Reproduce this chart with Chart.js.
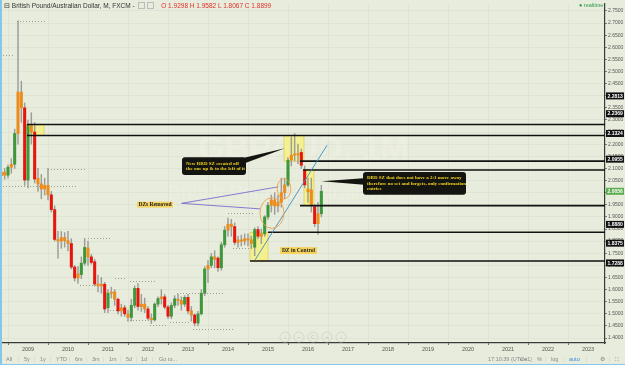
<!DOCTYPE html>
<html>
<head>
<meta charset="utf-8">
<script src="https://cdn.jsdelivr.net/npm/chart.js@4.4.0/dist/chart.umd.min.js"></script>
<style>
  html, body { margin: 0; padding: 0; background: #e8ecdc; overflow: hidden; }
  #wrap { position: relative; width: 625px; height: 365px; background: #e8ecdc; font-family: "Liberation Sans", Arial, sans-serif; }
  #wrap:before { content: ""; position: absolute; left: 0; top: 0; width: 2px; height: 365px; background: #86c6e6; z-index: 3; }
  #wrap:after { content: ""; position: absolute; left: 0; bottom: 0; width: 625px; height: 1px; background: #86c6e6; z-index: 3; }
  canvas { position: absolute; left: 0; top: 0; }
  #head { position: absolute; left: 4px; top: 2px; font-size: 6.5px; color: #333; white-space: nowrap; z-index: 2; }
  #head .ohlc { color: #e0302a; margin-left: 5px; }
  #head .ic { display: inline-block; width: 5px; height: 5px; border: 1px solid #bbb; margin-left: 2px; vertical-align: -1px; }
  #rt { position: absolute; left: 579px; top: 2px; font-size: 5.5px; color: #2a9a4a; z-index: 2; }
  #bar { position: absolute; left: 2px; top: 355px; width: 622px; height: 9px; font-size: 5.5px; color: #888; z-index: 2; }
  #bar span { position: absolute; top: 1px; white-space: nowrap; }
  #bar .sep { color: #cfd2c8; }
  #bar .on { color: #3c8ee0; }
</style>
</head>
<body>
<div id="wrap">
  <canvas id="chart" width="625" height="365"></canvas>
  <div id="head">&#8863; British Pound/Australian Dollar, M, FXCM - <span class="ic"></span><span class="ic"></span>
    <span class="ohlc">O 1.9298 H 1.9582 L 1.8067 C 1.8899</span></div>
  <div id="rt">&#9679; realtime</div>
  <div id="bar">
    <span style="left:4px">All</span><span class="sep" style="left:16px">|</span>
    <span style="left:22px">5y</span><span class="sep" style="left:32px">|</span>
    <span style="left:38px">1y</span><span class="sep" style="left:48px">|</span>
    <span style="left:54px">YTD</span><span class="sep" style="left:67px">|</span>
    <span style="left:73px">6m</span><span class="sep" style="left:84px">|</span>
    <span style="left:90px">3m</span><span class="sep" style="left:101px">|</span>
    <span style="left:107px">1m</span><span class="sep" style="left:118px">|</span>
    <span style="left:124px">5d</span><span class="sep" style="left:134px">|</span>
    <span style="left:139px">1d</span><span class="sep" style="left:150px">|</span>
    <span style="left:157px">Go to...</span>
    <span style="left:486px">17:10:39 (UTC+1)</span><span class="sep" style="left:513px">|</span>
    <span style="left:518px">ext</span><span class="sep" style="left:529px">|</span>
    <span style="left:535px">%</span><span class="sep" style="left:543px">|</span>
    <span style="left:549px">log</span><span class="sep" style="left:561px">|</span>
    <span class="on" style="left:567px">auto</span><span class="sep" style="left:584px">|</span>
    <span style="left:598px">&#9881;</span><span class="sep" style="left:607px">|</span>
    <span style="left:613px">&#9974;</span>
  </div>
</div>
<script>
// monthly GBPAUD candles
const months = [
  '2008-05','2008-06','2008-07','2008-08','2008-09','2008-10','2008-11','2008-12',
  '2009-01','2009-02','2009-03','2009-04','2009-05','2009-06','2009-07','2009-08','2009-09','2009-10','2009-11','2009-12',
  '2010-01','2010-02','2010-03','2010-04','2010-05','2010-06','2010-07','2010-08','2010-09','2010-10','2010-11','2010-12',
  '2011-01','2011-02','2011-03','2011-04','2011-05','2011-06','2011-07','2011-08','2011-09','2011-10','2011-11','2011-12',
  '2012-01','2012-02','2012-03','2012-04','2012-05','2012-06','2012-07','2012-08','2012-09','2012-10','2012-11','2012-12',
  '2013-01','2013-02','2013-03','2013-04','2013-05','2013-06','2013-07','2013-08','2013-09','2013-10','2013-11','2013-12',
  '2014-01','2014-02','2014-03','2014-04','2014-05','2014-06','2014-07','2014-08','2014-09','2014-10','2014-11','2014-12',
  '2015-01','2015-02','2015-03','2015-04','2015-05','2015-06','2015-07','2015-08','2015-09','2015-10','2015-11','2015-12',
  '2016-01','2016-02','2016-03','2016-04','2016-05'
];
const opens = [
  2.070,2.085,2.072,2.105,2.117,2.244,2.415,2.350,
  2.052,2.277,2.250,2.060,2.036,2.015,2.030,1.991,1.930,1.807,1.800,1.815,
  1.802,1.790,1.693,1.648,1.662,1.709,1.772,1.735,1.715,1.623,1.615,1.622,
  1.525,1.585,1.590,1.560,1.512,1.525,1.500,1.485,1.535,1.605,1.530,1.540,
  1.520,1.482,1.475,1.540,1.563,1.570,1.528,1.490,1.535,1.560,1.555,1.540,
  1.568,1.512,1.495,1.462,1.500,1.585,1.685,1.700,1.735,1.730,1.690,1.785,
  1.845,1.870,1.860,1.795,1.805,1.800,1.810,1.805,1.775,1.848,1.820,1.830,
  1.900,1.948,1.970,1.945,1.960,2.000,2.032,2.134,2.155,2.160,2.166,2.093,
  2.015,2.011,1.942,1.872,1.913
];
const highs = [
  2.105,2.100,2.115,2.140,2.262,2.709,2.460,2.370,
  2.300,2.330,2.290,2.100,2.075,2.060,2.100,2.005,1.945,1.840,1.840,1.835,
  1.840,1.810,1.700,1.695,1.735,1.811,1.800,1.745,1.725,1.660,1.650,1.630,
  1.600,1.610,1.600,1.565,1.540,1.535,1.515,1.560,1.615,1.625,1.580,1.565,
  1.530,1.500,1.545,1.570,1.600,1.580,1.535,1.545,1.575,1.580,1.570,1.575,
  1.580,1.530,1.500,1.510,1.600,1.695,1.720,1.750,1.760,1.735,1.795,1.860,
  1.895,1.890,1.875,1.820,1.825,1.830,1.830,1.820,1.855,1.860,1.850,1.905,
  1.960,1.990,2.000,1.990,2.060,2.060,2.145,2.230,2.244,2.200,2.180,2.110,
  2.060,2.060,1.950,1.960,2.030
];
const lows = [
  2.045,2.055,2.060,2.080,2.100,2.200,2.290,2.030,
  2.020,2.200,2.040,2.005,1.975,1.990,1.970,1.920,1.800,1.730,1.770,1.775,
  1.760,1.685,1.635,1.625,1.645,1.700,1.700,1.705,1.615,1.590,1.585,1.505,
  1.505,1.565,1.535,1.500,1.490,1.490,1.470,1.470,1.525,1.515,1.510,1.505,
  1.475,1.460,1.470,1.530,1.540,1.520,1.480,1.480,1.525,1.535,1.515,1.530,
  1.500,1.470,1.450,1.450,1.495,1.575,1.630,1.690,1.690,1.675,1.680,1.775,
  1.820,1.820,1.785,1.775,1.780,1.785,1.780,1.770,1.740,1.810,1.790,1.820,
  1.890,1.920,1.910,1.920,1.940,1.975,2.025,2.110,2.130,2.120,2.100,2.020,
  1.960,1.920,1.860,1.828,1.900
];
const closes = [
  2.085,2.072,2.105,2.117,2.244,2.415,2.350,2.052,
  2.277,2.250,2.056,2.036,2.015,2.030,1.991,1.930,1.807,1.800,1.815,1.802,
  1.790,1.693,1.648,1.665,1.709,1.774,1.735,1.712,1.623,1.615,1.622,1.520,
  1.585,1.590,1.560,1.512,1.525,1.500,1.485,1.535,1.605,1.530,1.540,1.520,
  1.482,1.475,1.540,1.563,1.570,1.528,1.490,1.535,1.562,1.555,1.540,1.568,
  1.512,1.495,1.462,1.500,1.585,1.685,1.700,1.735,1.725,1.690,1.785,1.845,
  1.870,1.860,1.795,1.805,1.800,1.810,1.805,1.790,1.848,1.820,1.830,1.900,
  1.948,1.970,1.945,1.960,2.000,2.032,2.134,2.155,2.160,2.156,2.113,2.032,
  2.003,1.950,1.872,1.913,2.0056
];
const yearTicks = [2009,2010,2011,2012,2013,2014,2015,2016,2017,2018,2019,2020,2021,2022,2023];
const priceTicks = [1.40,1.45,1.50,1.55,1.60,1.65,1.70,1.75,1.80,1.85,1.90,1.95,2.00,2.05,2.10,2.15,
  2.20,2.25,2.30,2.35,2.40,2.45,2.50,2.55,2.60,2.65,2.70,2.75];
// price labels on the right axis: [text value, price where the label sits]
const axisTags = [
  [2.2813, 2.3992], [2.2369, 2.3258], [2.1324, 2.2442], [2.0955, 2.1382],
  [1.8880, 1.8690], [1.8375, 1.7916], [1.7288, 1.7100]
];

// drawings on the chart, in decimal years and prices
const zones = [ // [from, to, top, bottom]
  [2008.95, 2009.40, 2.2810, 2.2361],
  [2015.40, 2015.90, 2.2361, 2.1301],
  [2015.90, 2016.15, 2.0934, 1.9465],
  [2014.55, 2015.00, 1.8364, 1.7182]
];
const levels = [ // [from, price] extended to the right
  [2008.975, 2.2810], [2008.975, 2.2361], [2015.80, 2.1301], [2015.875, 2.0934],
  [2015.80, 1.9465], [2015.00, 1.8364], [2014.55, 1.7182]
];
const dotted = [ // [from, to, price]
  [2008.725, 2009.425, 2.7092], [2008.30, 2008.675, 2.5664], [2009.50, 2010.425, 2.0974],
  [2008.375, 2010.25, 2.0281], [2010.50, 2011.10, 1.8119], [2011.175, 2011.475, 1.6488],
  [2011.55, 2012.225, 1.6366], [2010.30, 2010.725, 1.6202], [2012.725, 2013.925, 1.5876],
  [2011.05, 2011.35, 1.5143], [2011.475, 2012.225, 1.4735], [2012.55, 2013.05, 1.4653],
  [2012.05, 2012.50, 1.4531], [2013.125, 2014.175, 1.4368], [2014.0, 2014.625, 1.9180],
  [2014.125, 2014.60, 1.7712]
];
const trendLine = [[2014.675, 1.7222], [2016.475, 2.1953]];
const pointerLines = [
  [[2012.84, 1.9559], [2015.26, 2.0240]],
  [[2012.84, 1.9559], [2014.80, 1.9331]]
];
const circles = [ // [from, to, top, bottom]
  [2015.23, 2015.57, 2.0579, 1.9739],
  [2014.80, 2015.40, 1.9792, 1.8527]
];
const callouts = [
  { box: [2012.85, 2014.45, 2.1464, 2.0729], tip: [2015.425, 2.1831], side: 'right',
    lines: ['New RRD SZ created off', 'the one up & to the left of it'] },
  { box: [2017.375, 2019.95, 2.0852, 1.9914], tip: [2016.34, 2.0473], side: 'left',
    lines: ['DBD SZ that does not have a 2:1 move away', 'therefore no set and forgets, only confirmation', 'entries'] }
];
const tags = [
  { box: [2011.725, 2012.625, 1.9628, 1.9384], text: 'DZs Removed' },
  { box: [2015.30, 2016.225, 1.7752, 1.7467], text: 'DZ in Control' }
];

const GREEN = '#3f973b', RED = '#e5160e', ORANGE = '#eb8c1c', WICK = '#9c9c98';
const xs = months.map(m => { const [yy, mm] = m.split('-').map(Number); return yy + (mm - 1) / 12; });
function candleColor(i) {
  const body = Math.abs(closes[i] - opens[i]), range = highs[i] - lows[i];
  if (body < 0.5 * range) return ORANGE;
  return closes[i] >= opens[i] ? GREEN : RED;
}

function roundRect(ctx, x, y, w, h, r) {
  ctx.beginPath();
  ctx.moveTo(x + r, y); ctx.lineTo(x + w - r, y); ctx.quadraticCurveTo(x + w, y, x + w, y + r);
  ctx.lineTo(x + w, y + h - r); ctx.quadraticCurveTo(x + w, y + h, x + w - r, y + h);
  ctx.lineTo(x + r, y + h); ctx.quadraticCurveTo(x, y + h, x, y + h - r);
  ctx.lineTo(x, y + r); ctx.quadraticCurveTo(x, y, x + r, y); ctx.closePath();
}

const drawings = {
  id: 'drawings',
  beforeDatasetsDraw(chart) {
    const { ctx, chartArea: a, scales: { x, y } } = chart;
    ctx.save();
    ctx.beginPath(); ctx.rect(a.left, a.top, a.width, a.height); ctx.clip();
    // faint watermark
    ctx.fillStyle = 'rgba(255,255,255,0.14)';
    ctx.textAlign = 'center'; ctx.textBaseline = 'middle';
    ctx.font = 'bold 34px "Liberation Sans", Arial';
    ctx.fillText('GBPAUD, 1M', (a.left + a.right) / 2, 150);
    ctx.font = '20px "Liberation Sans", Arial';
    ctx.fillText('British Pound/Australian Dollar', (a.left + a.right) / 2, 193);
    zones.forEach(([t1, t2, p1, p2]) => {
      const x1 = x.getPixelForValue(t1), x2 = x.getPixelForValue(t2);
      const y1 = y.getPixelForValue(p1), y2 = y.getPixelForValue(p2);
      ctx.fillStyle = 'rgba(248,242,120,0.75)';
      ctx.fillRect(x1, y1, x2 - x1, y2 - y1);
      ctx.strokeStyle = 'rgba(215,200,70,0.9)'; ctx.lineWidth = 0.7;
      ctx.strokeRect(x1, y1, x2 - x1, y2 - y1);
    });
    ctx.strokeStyle = '#8a8a86'; ctx.lineWidth = 0.8; ctx.setLineDash([1, 2]);
    dotted.forEach(([t1, t2, p]) => {
      const yy = Math.round(y.getPixelForValue(p)) + 0.5;
      ctx.beginPath(); ctx.moveTo(x.getPixelForValue(t1), yy); ctx.lineTo(x.getPixelForValue(t2), yy); ctx.stroke();
    });
    ctx.restore();
  },
  afterDatasetsDraw(chart) {
    const { ctx, chartArea: a, scales: { x, y } } = chart;
    const px = t => x.getPixelForValue(t), py = p => y.getPixelForValue(p);
    ctx.save();
    ctx.beginPath(); ctx.rect(a.left, a.top, a.width, a.height); ctx.clip();
    ctx.strokeStyle = '#111'; ctx.lineWidth = 1.6;
    levels.forEach(([t, p]) => {
      ctx.beginPath(); ctx.moveTo(px(t), py(p)); ctx.lineTo(a.right, py(p)); ctx.stroke();
    });
    ctx.strokeStyle = '#3b8dc0'; ctx.lineWidth = 0.9;
    ctx.beginPath(); ctx.moveTo(px(trendLine[0][0]), py(trendLine[0][1]));
    ctx.lineTo(px(trendLine[1][0]), py(trendLine[1][1])); ctx.stroke();
    ctx.strokeStyle = '#7a6ccf'; ctx.lineWidth = 0.9;
    pointerLines.forEach(([s, e]) => {
      ctx.beginPath(); ctx.moveTo(px(s[0]), py(s[1])); ctx.lineTo(px(e[0]), py(e[1])); ctx.stroke();
    });
    ctx.strokeStyle = '#efa04a'; ctx.lineWidth = 0.9;
    circles.forEach(([t1, t2, p1, p2]) => {
      const cx = (px(t1) + px(t2)) / 2, cy = (py(p1) + py(p2)) / 2;
      ctx.beginPath(); ctx.ellipse(cx, cy, (px(t2) - px(t1)) / 2, (py(p2) - py(p1)) / 2, 0, 0, Math.PI * 2); ctx.stroke();
    });
    callouts.forEach(c => {
      const x1 = px(c.box[0]), x2 = px(c.box[1]), y1 = py(c.box[2]), y2 = py(c.box[3]);
      const tx = px(c.tip[0]), ty = py(c.tip[1]);
      ctx.fillStyle = '#141410';
      ctx.beginPath();
      if (c.side === 'right') { ctx.moveTo(x2 - 4, y1 + 1); ctx.lineTo(tx, ty); ctx.lineTo(x2 - 4, y1 + 7); }
      else { ctx.moveTo(x1 + 4, y1 + 6); ctx.lineTo(tx, ty); ctx.lineTo(x1 + 4, y1 + 13); }
      ctx.closePath(); ctx.fill();
      roundRect(ctx, x1, y1, x2 - x1, y2 - y1, 3); ctx.fill();
      ctx.fillStyle = '#f2d21e'; ctx.font = 'bold 5px "Liberation Serif", serif';
      ctx.textAlign = 'left'; ctx.textBaseline = 'middle';
      const lh = 5.6, top = (y1 + y2) / 2 - (c.lines.length - 1) * lh / 2;
      c.lines.forEach((l, i) => ctx.fillText(l, x1 + 4, top + i * lh));
    });
    tags.forEach(tg => {
      const x1 = px(tg.box[0]), x2 = px(tg.box[1]), y1 = py(tg.box[2]), y2 = py(tg.box[3]);
      ctx.fillStyle = '#f6d35c'; ctx.fillRect(x1, y1, x2 - x1, y2 - y1);
      ctx.fillStyle = '#222'; ctx.font = 'bold 5.5px "Liberation Serif", serif';
      ctx.textAlign = 'center'; ctx.textBaseline = 'middle';
      ctx.fillText(tg.text, (x1 + x2) / 2, (y1 + y2) / 2 + 0.3);
    });
    // chart navigation buttons
    ['\u2039', '\u2212', 'C', '+', '\u203A'].forEach((s, i) => {
      const cx = 285 + i * 14, cy = 337;
      ctx.strokeStyle = '#cfd2c6'; ctx.lineWidth = 0.8;
      ctx.beginPath(); ctx.arc(cx, cy, 5, 0, Math.PI * 2); ctx.stroke();
      ctx.fillStyle = '#c4c7bb'; ctx.font = '6px "Liberation Sans", Arial';
      ctx.textAlign = 'center'; ctx.textBaseline = 'middle'; ctx.fillText(s, cx, cy);
    });
    ctx.restore();
  },
  afterDraw(chart) {
    const { ctx, chartArea: a, scales: { y } } = chart;
    ctx.save();
    const tag = (v, p, bg) => {
      const yy = y.getPixelForValue(p);
      ctx.fillStyle = bg; ctx.fillRect(a.right + 1, yy - 3.5, 18, 7);
      ctx.fillStyle = '#fff'; ctx.font = 'bold 5px "Liberation Sans", Arial';
      ctx.textAlign = 'left'; ctx.textBaseline = 'middle';
      ctx.fillText(v.toFixed(4), a.right + 2.5, yy + 0.3);
    };
    axisTags.forEach(([v, p]) => tag(v, p, '#111'));
    const last = closes[closes.length - 1];
    tag(last, last, '#5cad4e');
    ctx.restore();
  }
};

new Chart(document.getElementById('chart'), {
  type: 'bar',
  data: {
    datasets: [
      {
        label: 'body',
        data: xs.map((t, i) => ({ x: t, y: [Math.min(opens[i], closes[i]), Math.max(opens[i], closes[i])] })),
        backgroundColor: c => candleColor(c.dataIndex),
        barThickness: 2.4, grouped: false, minBarLength: 1
      },
      {
        label: 'wick',
        data: xs.map((t, i) => ({ x: t, y: [lows[i], highs[i]] })),
        backgroundColor: WICK,
        barThickness: 0.8, grouped: false
      }
    ]
  },
  options: {
    responsive: false, animation: false, events: [],
    layout: { padding: { left: 2, right: 1, top: 0, bottom: 10 } },
    plugins: { legend: { display: false }, tooltip: { enabled: false } },
    scales: {
      x: {
        type: 'linear', min: 2008.35, max: 2023.425, offset: false,
        afterBuildTicks: s => { s.ticks = yearTicks.map(v => ({ value: v })); },
        afterFit: s => { s.height = 12; },
        border: { color: '#3a3a3a', width: 1.2 },
        grid: { color: 'rgba(0,0,0,0.03)', tickColor: '#777', tickLength: 2 },
        ticks: { autoSkip: false, maxRotation: 0, padding: 1, color: '#555',
          font: { size: 5.5, family: '"Liberation Sans", Arial' }, callback: v => String(v) }
      },
      y: {
        position: 'right', min: 1.3796, max: 2.7785,
        afterBuildTicks: s => { s.ticks = priceTicks.map(v => ({ value: v })); },
        afterFit: s => { s.width = 19; },
        border: { color: '#3a3a3a', width: 1.2 },
        grid: { color: 'rgba(0,0,0,0.03)', tickColor: '#777', tickLength: 2 },
        ticks: { autoSkip: false, padding: 1, color: '#555',
          font: { size: 5, family: '"Liberation Sans", Arial' }, callback: v => v.toFixed(4) }
      }
    }
  },
  plugins: [drawings]
});
</script>
</body>
</html>
